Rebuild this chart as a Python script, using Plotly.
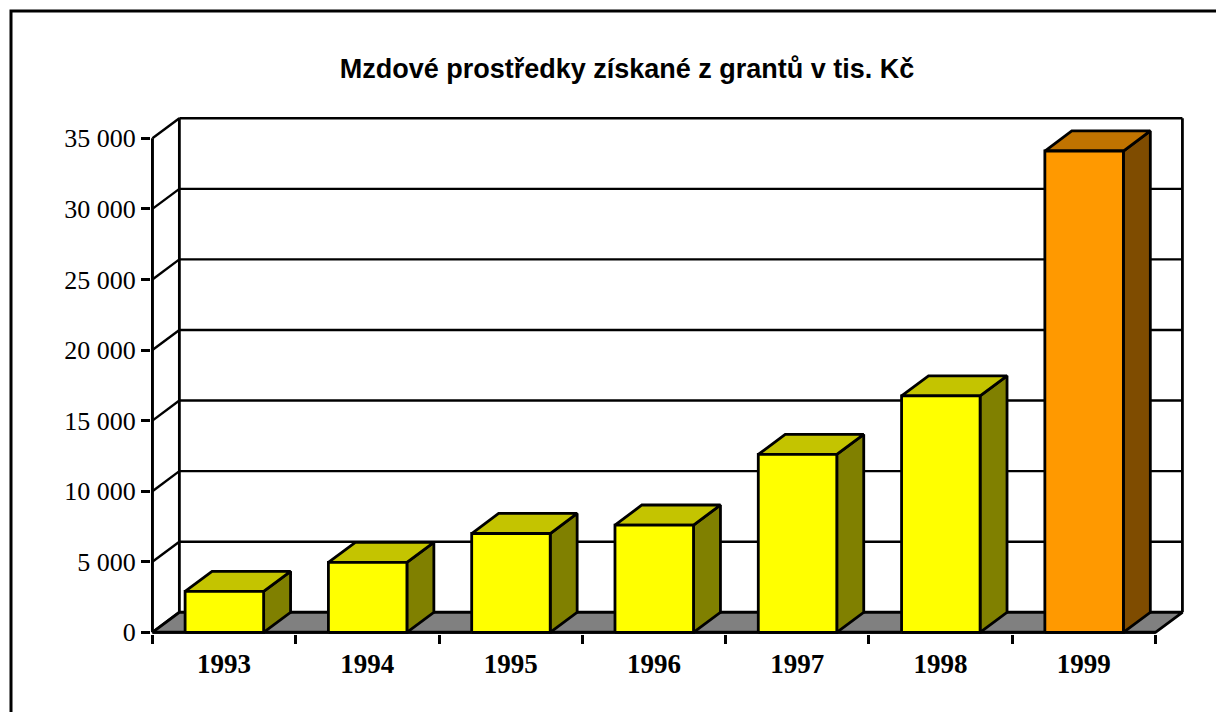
import plotly.graph_objects as go

# data
years = ["1993", "1994", "1995", "1996", "1997", "1998", "1999"]
values = [2900, 4950, 7000, 7600, 12600, 16750, 34100]
front_colors = ["#FFFF00"] * 6 + ["#FF9900"]
top_colors = ["#C4C400"] * 6 + ["#C07300"]
side_colors = ["#808000"] * 6 + ["#7F4C00"]
y_ticks = [0, 5000, 10000, 15000, 20000, 25000, 30000, 35000]

title = "Mzdové prostředky získané z grantů v tis. Kč"

# fake 3D depth (in axis units)
dx = 0.188
dy = 1420
n = len(years)
bar_left, bar_right = 0.228, 0.776
ymax = y_ticks[-1]

fig = go.Figure()


def poly(xs, ys, fill=None, width=2.8):
    fig.add_trace(go.Scatter(
        x=xs, y=ys, mode="lines",
        fill="toself" if fill else None, fillcolor=fill,
        line=dict(color="black", width=width),
        hoverinfo="skip", showlegend=False,
    ))


# back wall: gridlines + frame
for v in y_ticks:
    poly([dx, n + dx], [v + dy, v + dy], width=2.4)
poly([dx, dx], [dy, ymax + dy], width=2.8)
poly([n + dx, n + dx], [dy, ymax + dy], width=2.8)

# left wall diagonals
for v in y_ticks:
    poly([0, dx], [v, v + dy], width=2.4)

# floor
poly([0, n, n + dx, dx, 0], [0, 0, dy, dy, 0], fill="#808080")

# front axes
poly([0, 0], [0, ymax], width=3)
poly([0, n], [0, 0], width=3)

# bars
for i, v in enumerate(values):
    x0, x1 = i + bar_left, i + bar_right
    poly([x1, x1 + dx, x1 + dx, x1, x1], [0, dy, v + dy, v, 0], fill=side_colors[i])
    poly([x0, x1, x1 + dx, x0 + dx, x0], [v, v, v + dy, v + dy, v], fill=top_colors[i])
    poly([x0, x1, x1, x0, x0], [0, 0, v, v, 0], fill=front_colors[i])

fig.update_layout(
    width=1224, height=712,
    margin=dict(l=143, r=48, t=109, b=86),
    paper_bgcolor="white", plot_bgcolor="white",
    separators=", ",
    showlegend=False,
    title=dict(
        text=title, x=619 / 1224, xanchor="center",
        y=1 - 61 / 712, yanchor="middle", yref="container",
        font=dict(family="Liberation Sans", size=27, color="black", weight="bold"),
    ),
    shapes=[
        dict(type="rect", xref="paper", yref="paper",
             x0=(3 - 143) / 1033, x1=1.5, y0=-0.5, y1=(626 - 3) / 517,
             line=dict(color="black", width=3), fillcolor="rgba(0,0,0,0)"),
    ],
)

fig.update_xaxes(
    range=[-0.01, 7.199], showgrid=False, zeroline=False, showline=False,
    tickmode="array", tickvals=[i + 0.5 for i in range(n)], ticktext=years,
    ticks="", ticklabelstandoff=11,
    tickfont=dict(family="Liberation Serif", size=27, color="black", weight="bold"),
    minor=dict(tickmode="array", tickvals=list(range(n + 1)), ticks="outside",
               ticklen=9, tickwidth=2.5, tickcolor="black"),
    fixedrange=True, automargin=False,
)
fig.update_yaxes(
    range=[-120, 36510], showgrid=False, zeroline=False, showline=False,
    tickmode="array", tickvals=y_ticks, tickformat=",d",
    ticks="outside", ticklen=9, tickwidth=2.5, tickcolor="black",
    tickfont=dict(family="Liberation Serif", size=26, color="black"),
    fixedrange=True, automargin=False,
)

fig.write_html("out.html")
